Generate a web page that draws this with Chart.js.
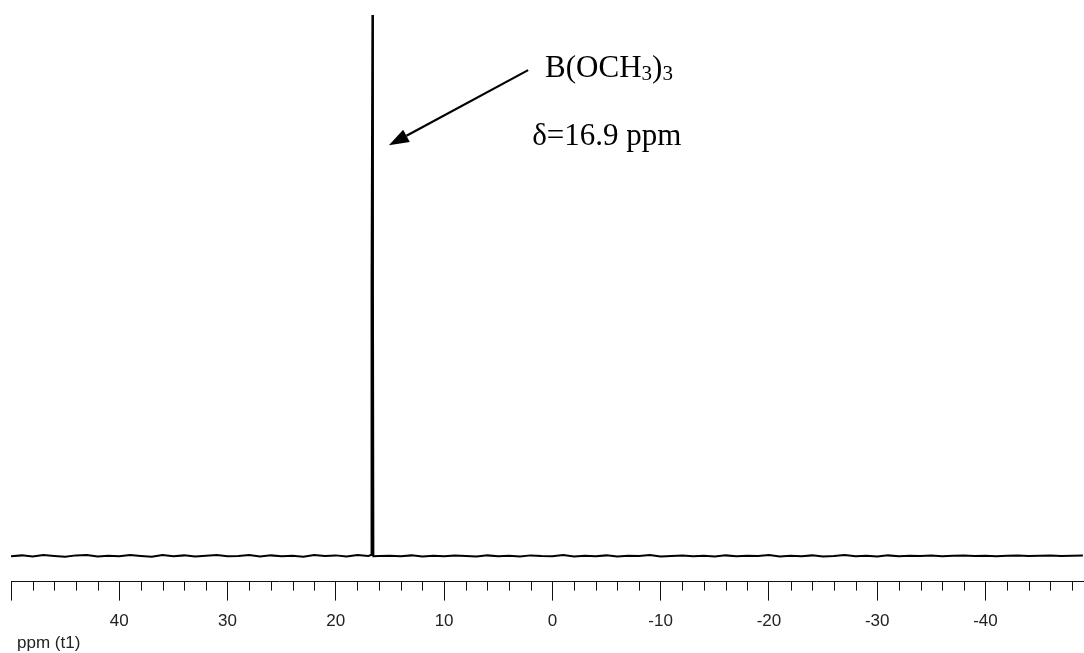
<!DOCTYPE html>
<html>
<head>
<meta charset="utf-8">
<script src="https://cdn.jsdelivr.net/npm/chart.js@4.4.1/dist/chart.umd.min.js"></script>
<style>
  html, body { margin: 0; padding: 0; background: #fff; }
  #wrap { width: 1084px; height: 653px; }
</style>
</head>
<body>
<div id="wrap"><canvas id="nmr"></canvas></div>
<script>
// chemical shift (ppm) and intensity
const ppm = [
  50, 49, 48, 47, 46, 45, 44, 43, 42, 41,
  40, 39, 38, 37, 36, 35, 34, 33, 32, 31,
  30, 29, 28, 27, 26, 25, 24, 23, 22, 21,
  20, 19, 18, 17,
  16.75, 16.72, 16.68, 16.62, 16.57, 16.53,
  16, 15, 14, 13, 12, 11, 10, 9, 8, 7,
  6, 5, 4, 3, 2, 1, 0, -1, -2, -3,
  -4, -5, -6, -7, -8, -9, -10, -11, -12, -13,
  -14, -15, -16, -17, -18, -19, -20, -21, -22, -23,
  -24, -25, -26, -27, -28, -29, -30, -31, -32, -33,
  -34, -35, -36, -37, -38, -39, -40, -41, -42, -43,
  -44, -45, -46, -47, -48, -49
];
const intensity = [
  -0.1, 0.05, -0.15, 0.1, -0.05, -0.2, 0.05, 0.1, -0.15, 0.0,
  -0.1, 0.1, -0.05, -0.2, 0.1, -0.1, 0.05, -0.15, 0.0, 0.1,
  -0.1, -0.05, 0.1, -0.15, 0.05, -0.1, 0.0, -0.2, 0.1, -0.05,
  0.05, -0.15, 0.1, -0.05,
  0.1, 4.6, 50, 100, 48, -0.1,
  -0.05, 0.0, -0.1, 0.05, -0.15, 0.0, -0.1, 0.05, -0.05, -0.15,
  0.05, -0.1, 0.0, -0.15, 0.05, -0.05, -0.1, 0.1, -0.15, 0.0,
  -0.1, 0.05, -0.15, 0.0, -0.05, 0.1, -0.15, -0.05, 0.05, -0.1,
  0.0, -0.15, 0.05, -0.1, 0.0, -0.05, 0.1, -0.15, 0.0, -0.1,
  0.05, -0.15, -0.05, 0.1, -0.1, 0.0, -0.15, 0.05, -0.1, 0.0,
  -0.05, 0.05, -0.1, 0.0, 0.05, -0.05, 0.0, -0.1, 0.0, 0.05,
  -0.05, 0.0, 0.05, -0.05, 0.0, 0.05
];
const xRange = [-49.1, 50];
const yRange = [-4.8, 100];
const axisTitle = "ppm (t1)";

// annotation anchors, in data units
const label = { name: "B(OCH", sub1: "3", close: ")", sub2: "3", x: 0.67, y: 88.5 };
const shiftText = { text: "\u03b4=16.9 ppm", x: 1.87, y: 75.9 };
const arrow = { fromX: 2.24, fromY: 89.8, toX: 15.1, toY: 75.9 };

const INK = "#111";
const SANS = "'Liberation Sans', Arial, sans-serif";

const minorTicks = {
  id: "minorTicks",
  afterDraw(chart) {
    const sx = chart.scales.x, ctx = chart.ctx, b = chart.chartArea.bottom;
    ctx.save();
    ctx.strokeStyle = INK;
    ctx.lineWidth = 1;
    sx.ticks.forEach(t => {
      if (Math.round(t.value) % 10 === 0) return;
      const px = Math.round(sx.getPixelForValue(t.value)) + 0.5;
      ctx.beginPath();
      ctx.moveTo(px, b);
      ctx.lineTo(px, b + 9);
      ctx.stroke();
    });
    // axis title, left aligned under the scale
    ctx.fillStyle = "#222";
    ctx.font = "17px " + SANS;
    ctx.textAlign = "left";
    ctx.textBaseline = "middle";
    ctx.fillText(axisTitle, chart.chartArea.left + 6, b + 62);
    ctx.restore();
  }
};

const notes = {
  id: "notes",
  afterDatasetsDraw(chart) {
    const sx = chart.scales.x, sy = chart.scales.y, ctx = chart.ctx;
    ctx.save();
    ctx.fillStyle = "#000";
    ctx.textBaseline = "alphabetic";

    // label with subscripts
    let x = sx.getPixelForValue(label.x), y = sy.getPixelForValue(label.y);
    const big = "31px 'Liberation Serif', 'Times New Roman', serif";
    const small = "21px 'Liberation Serif', 'Times New Roman', serif";
    ctx.font = big; ctx.fillText(label.name, x, y); x += ctx.measureText(label.name).width;
    ctx.font = small; ctx.fillText(label.sub1, x, y + 3); x += ctx.measureText(label.sub1).width;
    ctx.font = big; ctx.fillText(label.close, x, y); x += ctx.measureText(label.close).width;
    ctx.font = small; ctx.fillText(label.sub2, x, y + 3);

    ctx.font = big;
    ctx.fillText(shiftText.text, sx.getPixelForValue(shiftText.x), sy.getPixelForValue(shiftText.y));

    // arrow
    const x0 = sx.getPixelForValue(arrow.fromX), y0 = sy.getPixelForValue(arrow.fromY);
    const x1 = sx.getPixelForValue(arrow.toX), y1 = sy.getPixelForValue(arrow.toY);
    const ang = Math.atan2(y1 - y0, x1 - x0);
    const hl = 20, hw = 7;
    const bx = x1 - hl * Math.cos(ang), by = y1 - hl * Math.sin(ang);
    ctx.strokeStyle = "#000";
    ctx.lineWidth = 2.2;
    ctx.beginPath(); ctx.moveTo(x0, y0); ctx.lineTo(bx, by); ctx.stroke();
    ctx.beginPath();
    ctx.moveTo(x1, y1);
    ctx.lineTo(bx + hw * Math.sin(ang), by - hw * Math.cos(ang));
    ctx.lineTo(bx - hw * Math.sin(ang), by + hw * Math.cos(ang));
    ctx.closePath();
    ctx.fill();
    ctx.restore();
  }
};

new Chart(document.getElementById("nmr"), {
  type: "line",
  data: {
    datasets: [{
      data: ppm.map((p, i) => ({ x: p, y: intensity[i] })),
      borderColor: "#000",
      borderWidth: 2,
      pointRadius: 0,
      tension: 0,
      fill: false
    }]
  },
  options: {
    responsive: true,
    maintainAspectRatio: false,
    animation: false,
    layout: { padding: { left: 11, right: 0, top: 15, bottom: 10 } },
    plugins: { legend: { display: false }, tooltip: { enabled: false } },
    scales: {
      x: {
        type: "linear",
        reverse: true,
        min: xRange[0],
        max: xRange[1],
        border: { display: true, color: INK, width: 1 },
        grid: {
          drawOnChartArea: false,
          drawTicks: true,
          tickLength: 19,
          tickColor: c => (c.tick && Math.round(c.tick.value) % 10 === 0) ? INK : "rgba(0,0,0,0)"
        },
        ticks: {
          stepSize: 2,
          autoSkip: false,
          includeBounds: false,
          maxRotation: 0,
          padding: 11,
          color: "#222",
          font: { family: SANS, size: 17 },
          callback: v => {
            const r = Math.round(v);
            return (r % 10 === 0 && r !== 50) ? String(r) : "";
          }
        },
        title: { display: false }
      },
      y: {
        display: false,
        min: yRange[0],
        max: yRange[1]
      }
    }
  },
  plugins: [minorTicks, notes]
});
</script>
</body>
</html>
